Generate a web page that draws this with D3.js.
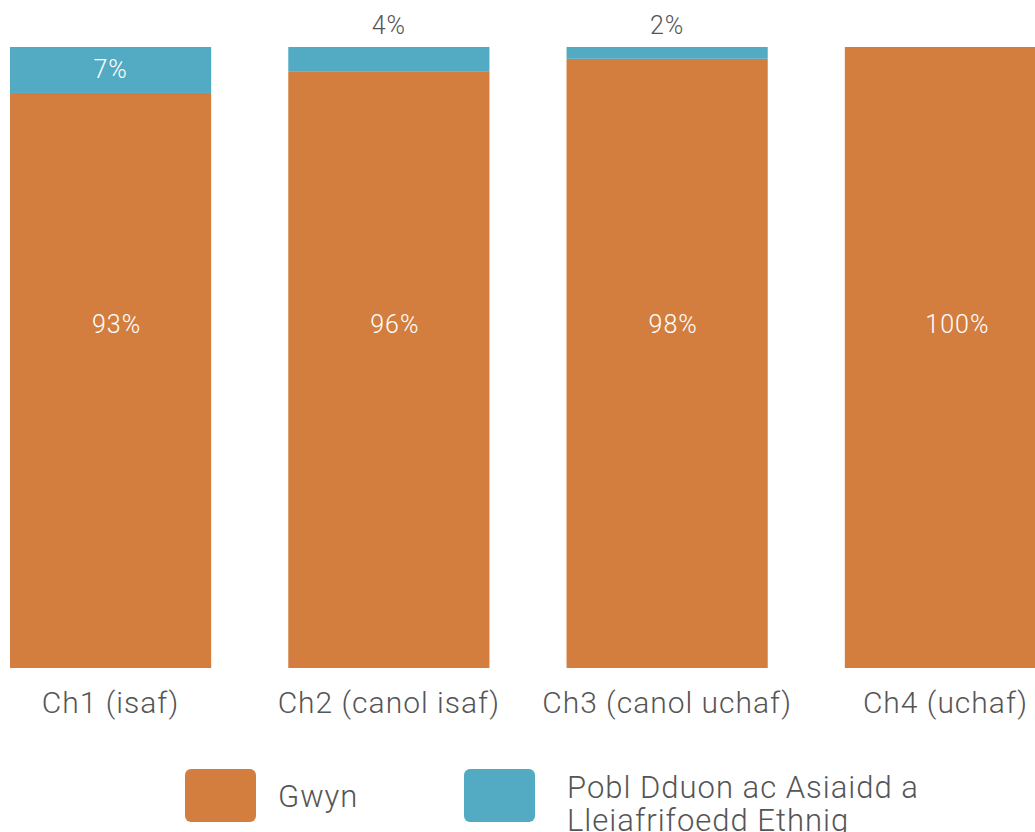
<!DOCTYPE html>
<html>
<head>
<meta charset="utf-8">
<script src="https://cdn.jsdelivr.net/npm/d3@7"></script>
<style>
  html, body { margin: 0; padding: 0; background: #fff; }
  svg { display: block; font-family: Roboto, "Liberation Sans", sans-serif; font-weight: 300; }
</style>
</head>
<body>
<svg id="chart" width="1035" height="832"></svg>
<script>
// Share of each group within the four bands (percent)
const categories = ["Ch1 (isaf)", "Ch2 (canol isaf)", "Ch3 (canol uchaf)", "Ch4 (uchaf)"];
const gwyn = [92.6, 96.0, 98.1, 100];
const bame = [7.4, 4.0, 1.9, 0];
const seriesNames = ["Gwyn", "Pobl Dduon ac Asiaidd a Lleiafrifoedd Ethnig"];
const seriesColors = ["#d37e3e", "#52aac3"];

const svg = d3.select("#chart");
const textGrey = "#555555";
const fontStack = "Roboto, 'Liberation Sans', sans-serif";

const x = d3.scaleBand()
  .domain(categories)
  .range([10, 1046])
  .paddingInner(0.277)
  .paddingOuter(0);

const y = d3.scaleLinear().domain([0, 100]).range([668, 47]);

const rows = categories.map((c, i) => ({ cat: c, Gwyn: gwyn[i], BAME: bame[i] }));
const layers = d3.stack().keys(["Gwyn", "BAME"])(rows);

const g = svg.append("g");

g.selectAll("g.layer")
  .data(layers)
  .join("g")
  .attr("class", "layer")
  .attr("fill", (d, i) => seriesColors[i])
  .selectAll("rect")
  .data(d => d.filter(s => s[1] - s[0] > 0))
  .join("rect")
  .attr("x", d => x(d.data.cat))
  .attr("width", x.bandwidth())
  .attr("y", d => y(d[1]))
  .attr("height", d => y(d[0]) - y(d[1]));

// White value labels inside the orange segments
g.selectAll("text.gwyn")
  .data(rows)
  .join("text")
  .attr("class", "gwyn")
  .attr("x", d => x(d.cat) + x.bandwidth() / 2 + (d.Gwyn >= 100 ? 12 : 6))
  .attr("y", 333)
  .attr("text-anchor", "middle")
  .attr("fill", "#ffffff")
  .attr("font-size", 25)
  .attr("letter-spacing", 1)
  .text(d => Math.round(d.Gwyn) + "%");

// Labels for the teal segments: inside when tall enough, above the bar otherwise
g.selectAll("text.bame")
  .data(rows.filter(d => d.BAME > 0))
  .join("text")
  .attr("class", "bame")
  .attr("x", d => x(d.cat) + x.bandwidth() / 2)
  .attr("y", d => (d.BAME > 5 ? (y(100) + y(100 - d.BAME)) / 2 + 8 : 34))
  .attr("text-anchor", "middle")
  .attr("fill", d => (d.BAME > 5 ? "#ffffff" : textGrey))
  .attr("font-size", 25)
  .attr("letter-spacing", 1)
  .text(d => Math.round(d.BAME) + "%");

// Category axis
const axis = svg.append("g")
  .attr("transform", "translate(0,668)")
  .call(d3.axisBottom(x).tickSize(0).tickPadding(0));
axis.select(".domain").remove();
axis.selectAll("text")
  .attr("dy", null)
  .attr("y", 45)
  .attr("font-family", fontStack)
  .attr("font-weight", 300)
  .attr("font-size", 30)
  .attr("letter-spacing", 1)
  .attr("fill", textGrey);

// Legend
const legendItems = [
  { x: 185, tx: 93, lines: [seriesNames[0]], color: seriesColors[0] },
  { x: 464, tx: 103, lines: ["Pobl Dduon ac Asiaidd a", "Lleiafrifoedd Ethnig"], color: seriesColors[1] }
];
const li = svg.append("g").selectAll("g").data(legendItems).join("g")
  .attr("transform", d => `translate(${d.x},769)`);
li.append("rect")
  .attr("width", 71).attr("height", 53).attr("rx", 6)
  .attr("fill", d => d.color);
li.append("text")
  .attr("font-size", 31)
  .attr("letter-spacing", 1)
  .attr("fill", textGrey)
  .selectAll("tspan")
  .data(d => d.lines.map((t, i, a) => ({ t, i, n: a.length, tx: d.tx })))
  .join("tspan")
  .attr("x", d => d.tx)
  .attr("y", d => d.n === 1 ? 38 : 29 + d.i * 33)
  .text(d => d.t);
</script>
</body>
</html>
